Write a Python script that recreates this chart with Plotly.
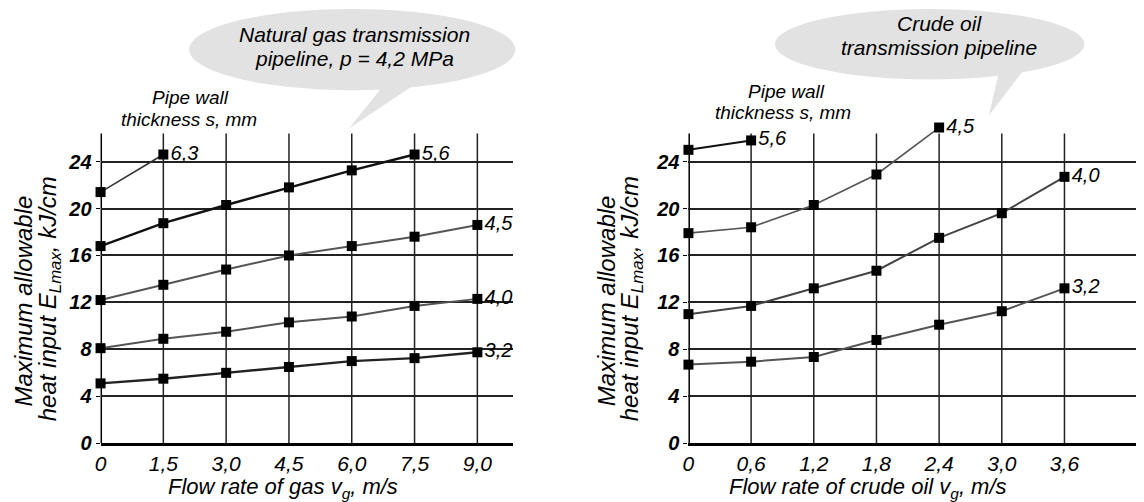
import plotly.graph_objects as go

# ---------------- data ----------------
gas_v = [0, 1.5, 3.0, 4.5, 6.0, 7.5, 9.0]
gas_ticks = ["0", "1,5", "3,0", "4,5", "6,0", "7,5", "9,0"]
gas_s63 = [21.4, 24.6]
gas_s56 = [16.8, 18.75, 20.3, 21.8, 23.25, 24.6]
gas_s45 = [12.2, 13.5, 14.8, 16.0, 16.8, 17.6, 18.6]
gas_s40 = [8.1, 8.9, 9.5, 10.3, 10.8, 11.7, 12.3]
gas_s32 = [5.1, 5.5, 6.0, 6.5, 7.0, 7.25, 7.75]

oil_v = [0, 0.6, 1.2, 1.8, 2.4, 3.0, 3.6]
oil_ticks = ["0", "0,6", "1,2", "1,8", "2,4", "3,0", "3,6"]
oil_s56 = [25.0, 25.8]
oil_s45 = [17.9, 18.4, 20.3, 22.9, 26.9]
oil_s40 = [11.0, 11.7, 13.2, 14.7, 17.5, 19.6, 22.7]
oil_s32 = [6.7, 6.95, 7.35, 8.8, 10.1, 11.25, 13.2]

y_ticks = [0, 4, 8, 12, 16, 20, 24]
grid_top = 26.4

W, H = 1144, 502
FONT = "Liberation Sans, Arial, sans-serif"


def px(x):
    return x / W


def py(y):
    return 1 - y / H


fig = go.Figure()

series = [
    ("x", "y", gas_v, gas_s63, "6,3", "#333333", 1.6),
    ("x", "y", gas_v, gas_s56, "5,6", "#111111", 2.4),
    ("x", "y", gas_v, gas_s45, "4,5", "#555555", 2.0),
    ("x", "y", gas_v, gas_s40, "4,0", "#555555", 2.0),
    ("x", "y", gas_v, gas_s32, "3,2", "#222222", 2.4),
    ("x2", "y2", oil_v, oil_s56, "5,6", "#111111", 2.0),
    ("x2", "y2", oil_v, oil_s45, "4,5", "#555555", 1.6),
    ("x2", "y2", oil_v, oil_s40, "4,0", "#444444", 2.0),
    ("x2", "y2", oil_v, oil_s32, "3,2", "#555555", 2.0),
]
for xa, ya, xs, ys, lab, col, lw in series:
    n = len(ys)
    txt = [""] * (n - 1) + [lab]
    fig.add_trace(go.Scatter(
        x=xs[:n], y=ys, xaxis=xa, yaxis=ya,
        mode="lines+markers+text",
        line=dict(color=col, width=lw),
        marker=dict(symbol="square", size=10, color="#000000"),
        text=txt, textposition="middle right",
        textfont=dict(family=FONT, size=20, color="#000000", style="italic"),
        cliponaxis=False, showlegend=False, hoverinfo="skip",
    ))

shapes = []
for xa, ya, xs in [("x", "y", gas_v), ("x2", "y2", oil_v)]:
    for v in xs:
        shapes.append(dict(type="line", xref=xa, yref=ya, x0=v, x1=v, y0=0, y1=grid_top,
                           line=dict(color="#000000" if v == 0 else "#222222",
                                     width=3 if v == 0 else 1.5), layer="below"))

BUB = "#e2e2e2"
shapes.append(dict(type="circle", xref="paper", yref="paper",
                   x0=px(176), x1=px(504), y0=py(84), y1=py(1),
                   fillcolor=BUB, line=dict(width=0), layer="below"))
shapes.append(dict(type="path", xref="paper", yref="paper",
                   path=f"M {px(374)},{py(76)} L {px(412)},{py(72)} L {px(337)},{py(123)} Z",
                   fillcolor=BUB, line=dict(width=0), layer="below"))
shapes.append(dict(type="circle", xref="paper", yref="paper",
                   x0=px(765), x1=px(1076), y0=py(73), y1=py(1),
                   fillcolor=BUB, line=dict(width=0), layer="below"))
shapes.append(dict(type="path", xref="paper", yref="paper",
                   path=f"M {px(990)},{py(66)} L {px(1016)},{py(62)} L {px(980)},{py(110)} Z",
                   fillcolor=BUB, line=dict(width=0), layer="below"))

annotations = []


def ann(text, x, y, size, angle=0, xanchor="center"):
    annotations.append(dict(text=text, x=px(x), y=py(y), xref="paper", yref="paper",
                            showarrow=False, xanchor=xanchor, yanchor="middle",
                            textangle=angle,
                            font=dict(family=FONT, size=size, color="#000000", style="italic")))


ann("Natural gas transmission", 342, 27, 21)
ann("pipeline, p = 4,2 MPa", 342, 52, 21)
ann("Crude oil", 930, 16, 21)
ann("transmission pipeline", 930, 40, 21)
ann("Pipe wall", 177, 92, 19)
ann("thickness s, mm", 176, 114, 19)
ann("Pipe wall", 777, 85, 19)
ann("thickness s, mm", 773, 107, 19)
ann("Flow rate of gas v<sub>g</sub>, m/s", 270, 491, 22)
ann("Flow rate of crude oil v<sub>g</sub>, m/s", 858, 491, 22)
ann("Maximum allowable", 10, 299, 24, -90)
ann("heat input E<sub>Lmax</sub>, kJ/cm", 36, 297, 24, -90)
ann("Maximum allowable", 596, 299, 24, -90)
ann("heat input E<sub>Lmax</sub>, kJ/cm", 621, 297, 24, -90)

xtickfont = dict(family=FONT, size=21, color="#000000", style="italic")
ytickfont = dict(family=FONT, size=20, color="#000000", style="italic", weight="bold")
ydom = [57 / H, (H - 118.6) / H]


def yaxis_common():
    return dict(range=[0, 27.2], tickvals=y_ticks, ticktext=[str(t) for t in y_ticks],
                showgrid=True, gridcolor="#222222", gridwidth=1.5, zeroline=False,
                showline=False, ticks="outside", ticklen=4, tickcolor="#000000",
                tickfont=ytickfont, domain=ydom, fixedrange=True)


fig.update_layout(
    width=W, height=H,
    margin=dict(l=0, r=0, t=0, b=0),
    paper_bgcolor="#ffffff", plot_bgcolor="#ffffff",
    shapes=shapes, annotations=annotations,
    xaxis=dict(domain=[87 / W, 502 / W], range=[0, 9.86], tickvals=gas_v, ticktext=gas_ticks,
               showgrid=False, zeroline=False, showline=True, linecolor="#000000", linewidth=3,
               ticks="", tickfont=xtickfont, anchor="y", fixedrange=True),
    yaxis=dict(anchor="x", **yaxis_common()),
    xaxis2=dict(domain=[678 / W, 1140 / W], range=[0, 4.4], tickvals=oil_v, ticktext=oil_ticks,
                showgrid=False, zeroline=False, showline=True, linecolor="#000000", linewidth=3,
                ticks="", tickfont=xtickfont, anchor="y2", fixedrange=True),
    yaxis2=dict(anchor="x2", **yaxis_common()),
)

fig.write_html("out.html")
